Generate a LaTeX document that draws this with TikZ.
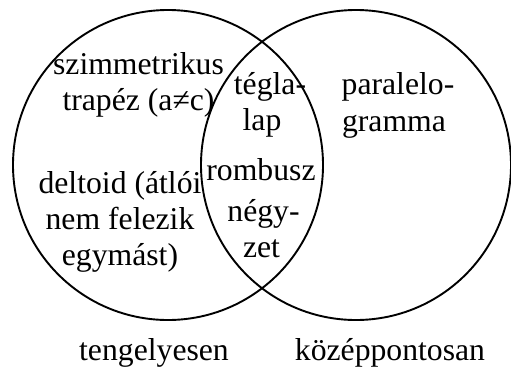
\documentclass[tikz,border=0pt]{standalone}
\usepackage{fontspec}
\setmainfont{Liberation Serif}
\begin{document}
\begin{tikzpicture}[x=1pt,y=-1pt,
  setc/.style={circle,draw,line width=1.9pt,minimum size=310pt,inner sep=0pt},
  lbl/.style={anchor=base,inner sep=0pt,font=\fontsize{31.7}{36}\selectfont}]
\useasboundingbox (0,0) rectangle (511,367);
\node[setc] (L) at (168,165) {};
\node[setc] (R) at (356,165) {};
\node[lbl] (s1) at (138.5,74) {szimmetrikus};
\node[lbl] (s2) at (138.5,110) {trapéz (a≠c)};
\node[lbl] (d1) at (120,193) {deltoid (átlói};
\node[lbl] (d2) at (120,229) {nem felezik};
\node[lbl] (d3) at (120,265) {egymást)};
\node[lbl] (t1) at (270,94) {tégla-};
\node[lbl] (t2) at (262,130) {lap};
\node[lbl] (r1) at (261,180) {rombusz};
\node[lbl] (n1) at (263.5,221) {négy-};
\node[lbl] (n2) at (261.5,257) {zet};
\node[lbl] (p1) at (398,94) {paralelo-};
\node[lbl] (p2) at (394,131) {gramma};
\node[lbl] (tl) at (154,360) {tengelyesen};
\node[lbl] (kl) at (390,360) {középpontosan};
\end{tikzpicture}
\end{document}
